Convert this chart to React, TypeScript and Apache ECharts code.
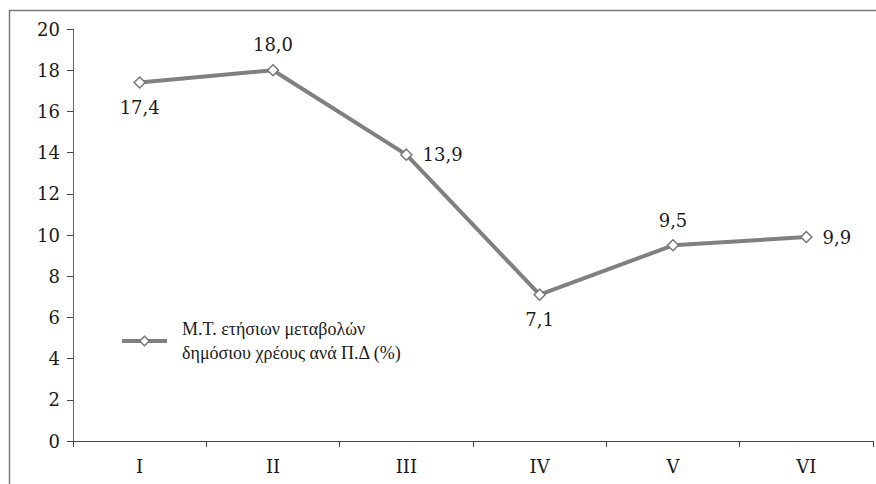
import React, { useEffect, useRef } from "react";
import * as echarts from "echarts";

const categories = ["I", "II", "III", "IV", "V", "VI"];
const values = [17.4, 18.0, 13.9, 7.1, 9.5, 9.9];
const labelPositions = ["bottom", "top", "right", "bottom", "top", "right"];
const seriesName = "Μ.Τ. ετήσιων μεταβολών\nδημόσιου χρέους ανά Π.Δ (%)";
const yMin = 0;
const yMax = 20;
const yInterval = 2;

const FONT = "'DejaVu Serif', 'Liberation Serif', serif";
const LEGEND_FONT = "'Liberation Serif', serif";

export default function App() {
  const ref = useRef<HTMLDivElement>(null);
  useEffect(() => {
    if (!ref.current) return;
    const chart = echarts.init(ref.current, null, { renderer: "svg" });
    chart.setOption({
      animation: false,
      backgroundColor: "#ffffff",
      textStyle: { fontFamily: FONT },
      graphic: [
        {
          type: "rect",
          shape: { x: 9.5, y: 10.5, width: 900, height: 500 },
          style: { fill: "none", stroke: "#7a7a7a", lineWidth: 1.5 },
          silent: true,
        },
      ],
      grid: { left: 73, right: 3, top: 29, bottom: 43 },
      legend: {
        left: 120,
        top: 305,
        padding: 0,
        orient: "vertical",
        itemWidth: 45,
        itemHeight: 12,
        itemGap: 0,
        lineStyle: { width: 4, color: "#808080" },
        itemStyle: { color: "#ffffff", borderColor: "#777", borderWidth: 1.5 },
        textStyle: {
          fontFamily: LEGEND_FONT,
          fontSize: 18,
          color: "#1a1a1a",
          lineHeight: 24,
          padding: [24, 0, 0, 10],
        },
        data: [seriesName],
      },
      xAxis: {
        type: "category",
        data: categories,
        boundaryGap: true,
        axisLine: { lineStyle: { color: "#444", width: 1 } },
        axisTick: { show: true, length: 6, lineStyle: { color: "#444" } },
        axisLabel: { fontFamily: FONT, fontSize: 18, color: "#1a1a1a", margin: 16 },
        splitLine: { show: false },
      },
      yAxis: {
        type: "value",
        min: yMin,
        max: yMax,
        interval: yInterval,
        axisLine: { show: true, lineStyle: { color: "#666", width: 1 } },
        axisTick: { show: true, length: 6, lineStyle: { color: "#444" } },
        axisLabel: {
          fontFamily: FONT,
          fontSize: 18,
          color: "#1a1a1a",
          margin: 13,
        },
        splitLine: { show: false },
      },
      series: [
        {
          name: seriesName,
          type: "line",
          data: values.map((v, i) => ({
            value: v,
            label: { position: labelPositions[i] },
          })),
          symbol: "diamond",
          symbolSize: 11,
          showAllSymbol: true,
          lineStyle: { color: "#808080", width: 4 },
          itemStyle: { color: "#ffffff", borderColor: "#777", borderWidth: 1.5 },
          label: {
            show: true,
            fontFamily: FONT,
            fontSize: 18,
            color: "#1a1a1a",
            distance: 10,
            formatter: (p: any) => p.value.toFixed(1).replace(".", ","),
          },
        },
      ],
    });
    return () => chart.dispose();
  }, []);
  return (
    <div
      ref={ref}
      style={{ position: "fixed", left: 0, top: 0, width: 876, height: 484 }}
    />
  );
}
